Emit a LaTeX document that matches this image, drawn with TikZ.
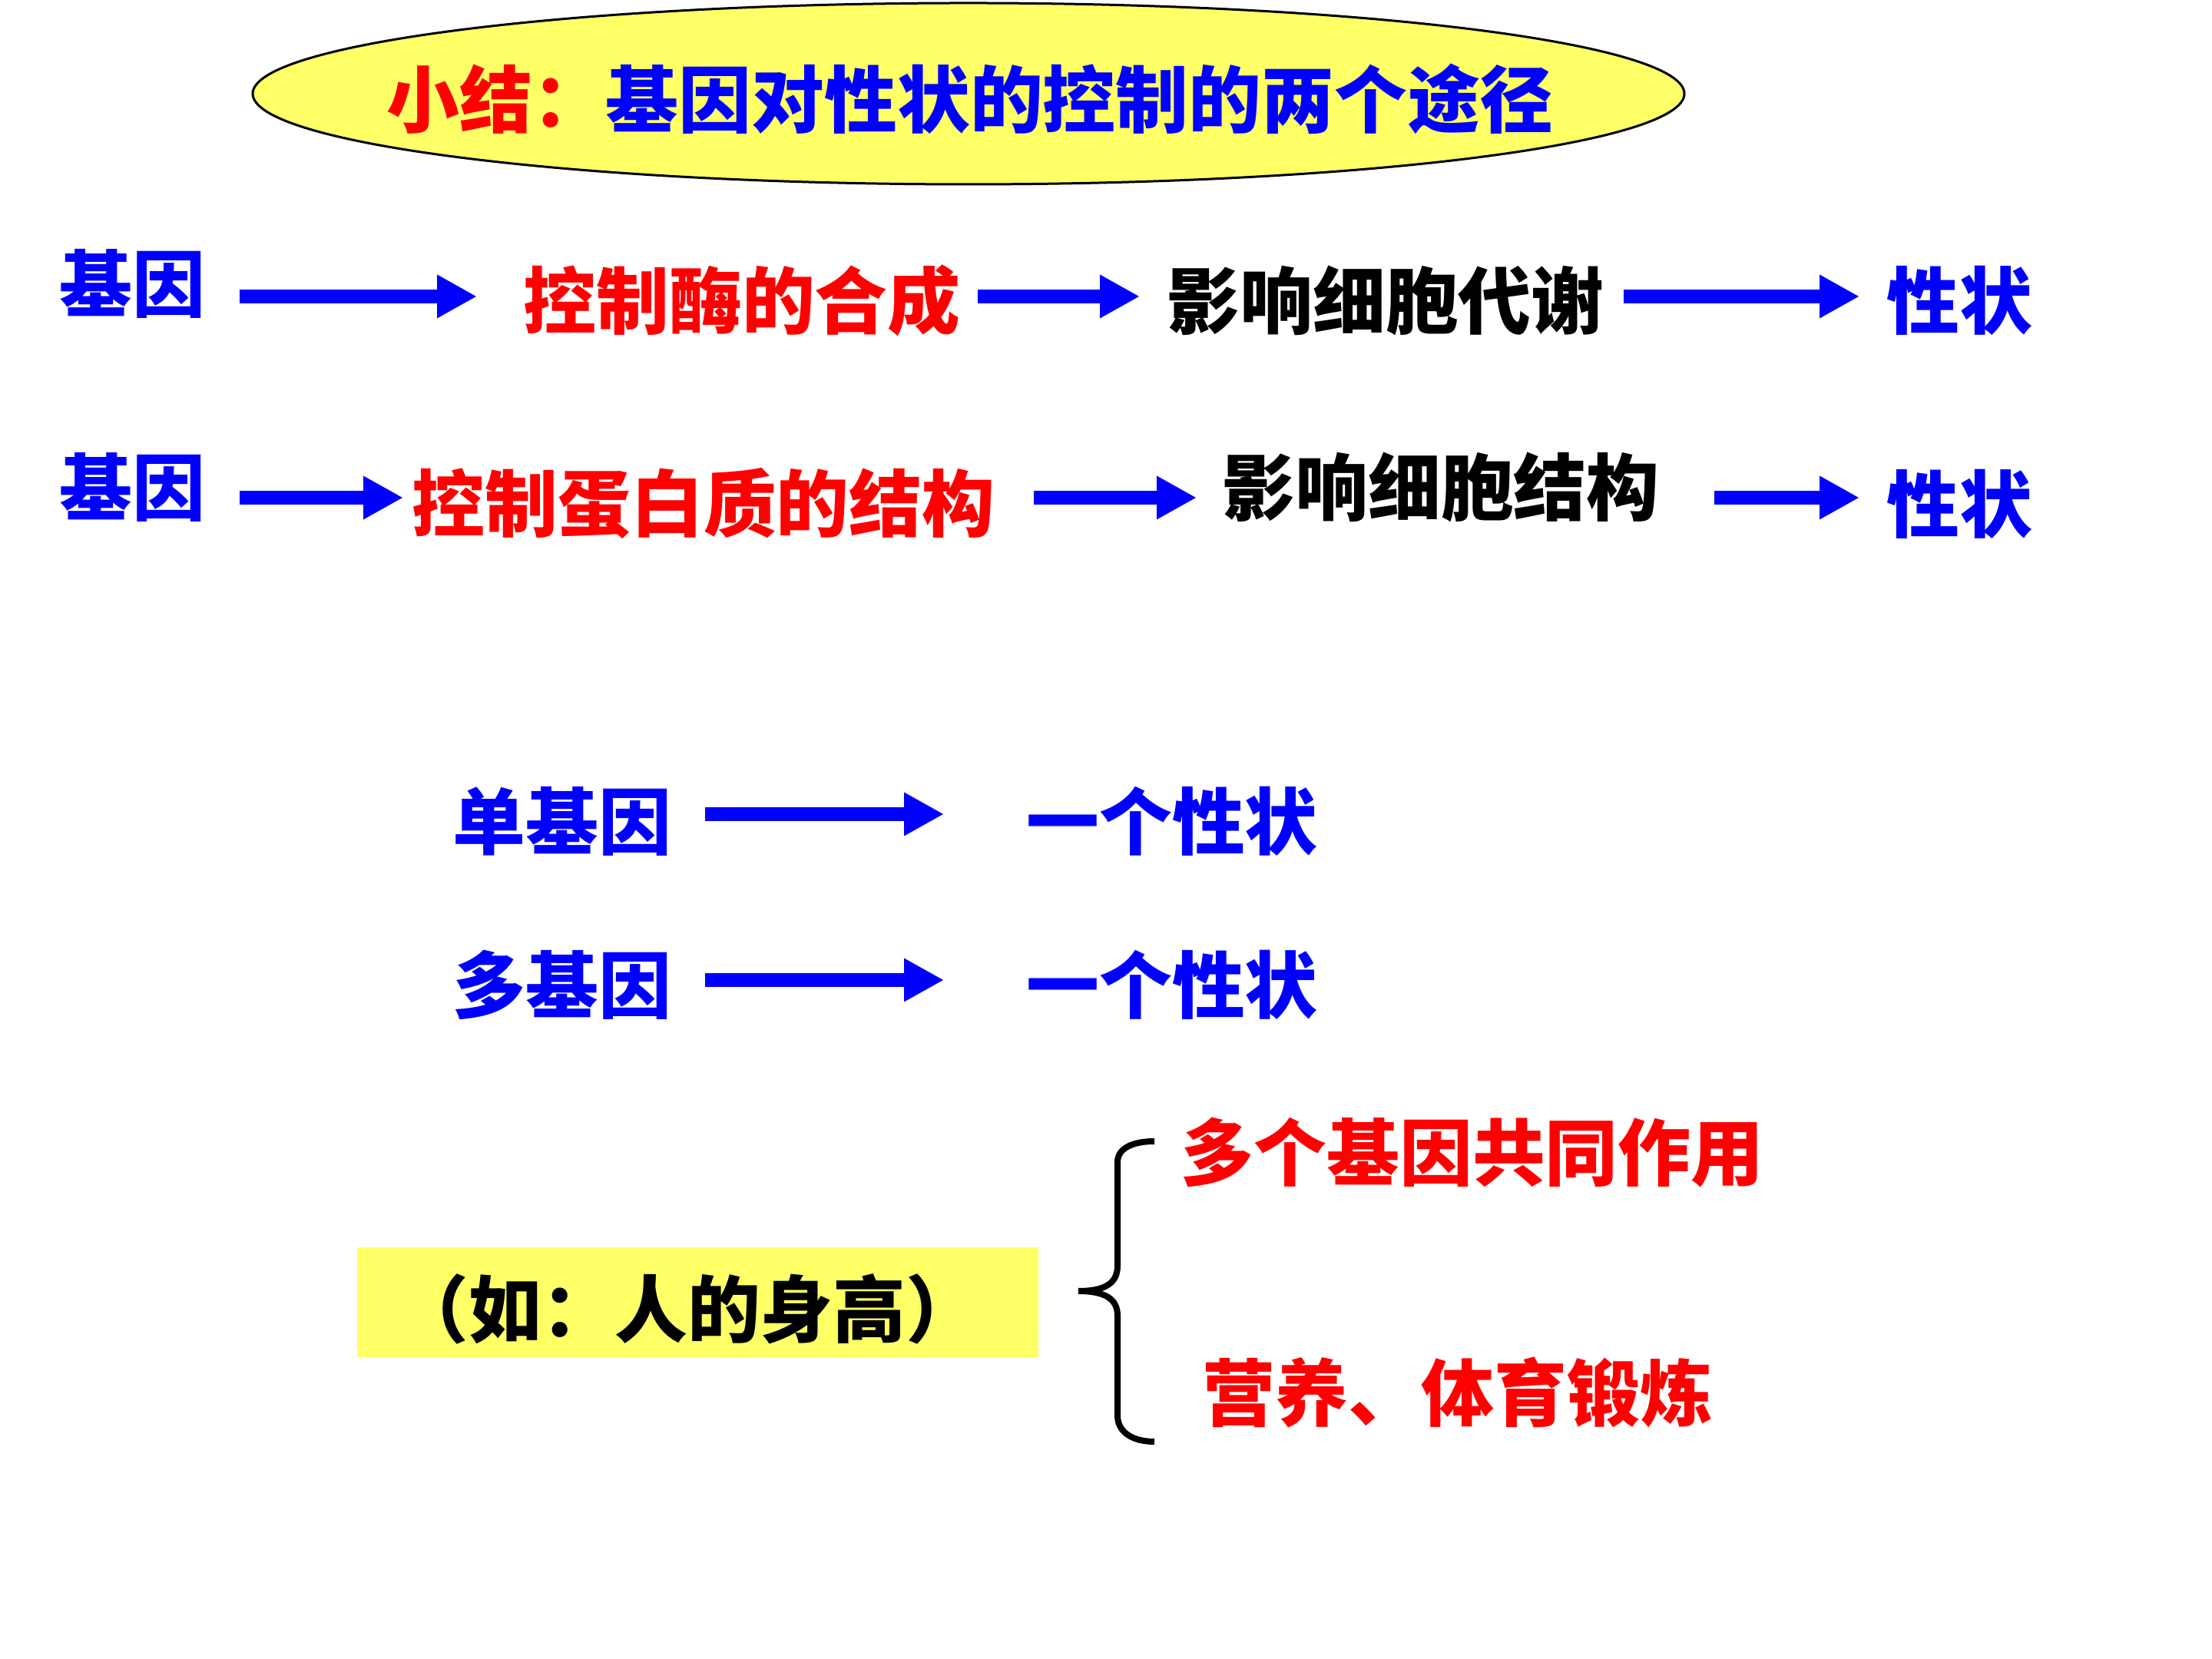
\documentclass[tikz,border=0pt]{standalone}
\usepackage{fontspec}
\setmainfont{Noto Sans CJK SC}
\usetikzlibrary{shapes.geometric,arrows.meta}
\definecolor{pblue}{RGB}{0,0,255}
\definecolor{pred}{RGB}{255,0,0}
\definecolor{pyellow}{RGB}{255,255,102}
\tikzset{
  txt/.style={inner sep=0pt, font=\fontsize{27pt}{30pt}\selectfont\bfseries},
  bluetxt/.style={txt, text=pblue},
  redtxt/.style={txt, text=pred},
  blacktxt/.style={txt, text=black},
  bigarrow/.style={draw=pblue, line width=0.18cm, -{Triangle[length=0.52cm,width=0.53cm]}, shorten >=0pt},
}
\begin{document}
\begin{tikzpicture}
\useasboundingbox (0,0) rectangle (28.8,21.6);
\fill[white] (0,0) rectangle (28.8,21.6);

% title ellipse
\node[ellipse, draw=black, line width=0.03cm, fill=pyellow, minimum width=18.64cm, minimum height=2.36cm, inner sep=0pt] (ell) at (12.61,20.38) {};
\node[txt] (title) at (12.63,20.31) {\textcolor{pred}{小结：}\textcolor{pblue}{基因对性状的控制的两个途径}};

% row 1
\node[bluetxt] (g1) at (1.72,17.91) {基因};
\node[redtxt] (e1) at (9.66,17.69) {控制酶的合成};
\node[blacktxt] (m1) at (18.04,17.69) {影响细胞代谢};
\node[bluetxt] (t1) at (25.51,17.69) {性状};
\coordinate (a1s) at (3.12,17.74); \coordinate (a1e) at (6.21,17.74);
\coordinate (a2s) at (12.73,17.74); \coordinate (a2e) at (14.84,17.74);
\coordinate (a3s) at (21.14,17.74); \coordinate (a3e) at (24.21,17.74);
\draw[bigarrow] (a1s) -- (a1e);
\draw[bigarrow] (a2s) -- (a2e);
\draw[bigarrow] (a3s) -- (a3e);

% row 2
\node[bluetxt] (g2) at (1.72,15.26) {基因};
\node[redtxt] (p2) at (9.16,15.04) {控制蛋白质的结构};
\node[blacktxt] (m2) at (18.76,15.26) {影响细胞结构};
\node[bluetxt] (t2) at (25.51,15.04) {性状};
\coordinate (b1s) at (3.12,15.12); \coordinate (b1e) at (5.25,15.12);
\coordinate (b2s) at (13.46,15.12); \coordinate (b2e) at (15.58,15.12);
\coordinate (b3s) at (22.32,15.12); \coordinate (b3e) at (24.21,15.12);
\draw[bigarrow] (b1s) -- (b1e);
\draw[bigarrow] (b2s) -- (b2e);
\draw[bigarrow] (b3s) -- (b3e);

% row 3
\node[bluetxt] (s3) at (7.32,10.91) {单基因};
\node[bluetxt] (o3) at (15.26,10.91) {一个性状};
\coordinate (c1s) at (9.18,11.00); \coordinate (c1e) at (12.29,11.00);
\draw[bigarrow] (c1s) -- (c1e);

% row 4
\node[bluetxt] (s4) at (7.32,8.78) {多基因};
\node[bluetxt] (o4) at (15.26,8.78) {一个性状};
\coordinate (d1s) at (9.18,8.84); \coordinate (d1e) at (12.29,8.84);
\draw[bigarrow] (d1s) -- (d1e);

% bottom
\fill[pyellow] (4.65,3.93) rectangle (13.52,5.36);
\node[blacktxt] (ex) at (8.95,4.56) {（如：人的身高）};
\node[redtxt] (f1) at (19.17,6.59) {多个基因共同作用};
\node[redtxt] (f2) at (18.98,3.47) {营养、体育锻炼};

% brace
\draw[line width=0.08cm, black]
  (15.03,6.74) .. controls (14.75,6.74) and (14.55,6.65) .. (14.55,6.47)
  -- (14.55,5.12) .. controls (14.55,4.90) and (14.40,4.79) .. (14.04,4.79)
  .. controls (14.40,4.79) and (14.55,4.68) .. (14.55,4.47)
  -- (14.55,3.17) .. controls (14.55,2.95) and (14.75,2.83) .. (15.03,2.83);
\end{tikzpicture}
\end{document}
